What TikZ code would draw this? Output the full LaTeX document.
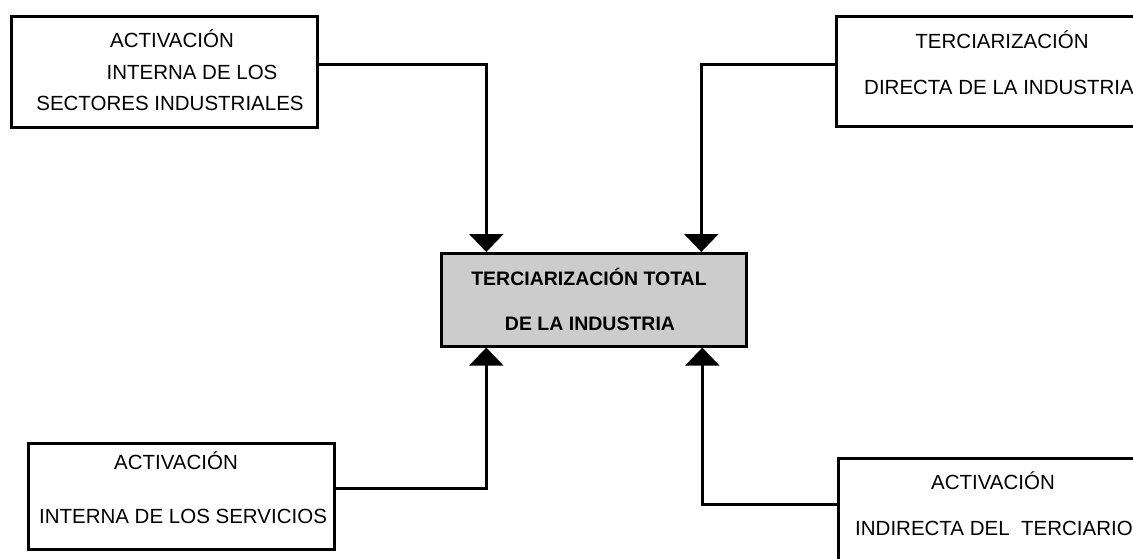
\documentclass[tikz,border=0pt]{standalone}
\usepackage{fontspec}
\setmainfont{Liberation Sans}
\usetikzlibrary{arrows.meta}
\begin{document}
\begin{tikzpicture}[x=1pt,y=-1pt,
  box/.style={draw=black,line width=2.6pt,rectangle,inner sep=0pt,anchor=north west},
  txt/.style={inner sep=0pt,font=\fontsize{20.5}{24}\selectfont},
  ctxt/.style={inner sep=0pt,font=\fontsize{19.5}{24}\selectfont\bfseries},
  conn/.style={line width=2.4pt,-{Triangle[width=34pt,length=18pt]}}]
\useasboundingbox (0,0) rectangle (1133,558);
\clip (0,0) rectangle (1133,558);
% boxes
\node[box,minimum width=306pt,minimum height=111pt] (tl) at (10,15) {};
\node[box,minimum width=330pt,minimum height=110pt] (tr) at (835,15) {};
\node[box,minimum width=306pt,minimum height=106pt] (bl) at (27,442) {};
\node[box,minimum width=330pt,minimum height=110pt] (br) at (837,457) {};
\node[box,fill=black!20,minimum width=305pt,minimum height=93pt] (ctr) at (440,252) {};
% texts
\node[txt] (tl1) at (172,39) {ACTIVACIÓN};
\node[txt] (tl2) at (192,72) {INTERNA DE LOS};
\node[txt] (tl3) at (170,103) {SECTORES INDUSTRIALES};
\node[txt] (tr1) at (1002,40) {TERCIARIZACIÓN};
\node[txt,anchor=west] (tr2) at (864,87) {DIRECTA DE LA INDUSTRIA};
\node[txt] (bl1) at (176,461) {ACTIVACIÓN};
\node[txt] (bl2) at (183,516) {INTERNA DE LOS SERVICIOS};
\node[txt] (br1) at (993,481) {ACTIVACIÓN};
\node[txt,anchor=west] (br2) at (855,528) {INDIRECTA DEL\ \ TERCIARIO};
\node[ctxt] (c1) at (589,277) {TERCIARIZACIÓN TOTAL};
\node[ctxt] (c2) at (590,324) {DE LA INDUSTRIA};
% connectors
\draw[conn] ([yshift=7.5pt]tl.east) -| ([xshift=-107.5pt]ctr.north);
\draw[conn] ([yshift=7pt]tr.west) -| ([xshift=107.5pt]ctr.north);
\draw[conn] ([yshift=8pt]bl.east) -| ([xshift=-107.5pt]ctr.south);
\draw[conn] ([yshift=9pt]br.west) -| ([xshift=108.5pt]ctr.south);
\end{tikzpicture}
\end{document}
